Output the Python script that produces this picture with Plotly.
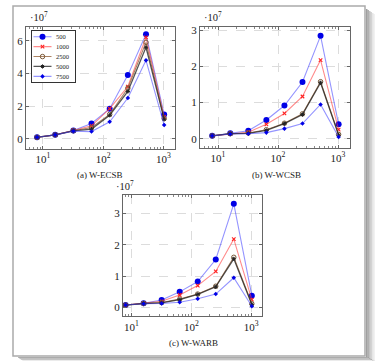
import plotly.graph_objects as go

W, H = 384, 361

threads = [8, 16, 32, 64, 128, 256, 512, 1024]
series_names = ["500", "1000", "2500", "5000", "7500"]

# values in units of 1e7
ecsb = {
    "500":  [0.10, 0.25, 0.52, 0.95, 1.85, 3.90, 6.40, 1.50],
    "1000": [0.10, 0.25, 0.52, 0.80, 1.85, 3.20, 6.20, 1.35],
    "2500": [0.10, 0.25, 0.50, 0.70, 1.50, 3.10, 5.90, 1.25],
    "5000": [0.10, 0.25, 0.50, 0.60, 1.45, 2.90, 5.60, 1.20],
    "7500": [0.10, 0.25, 0.48, 0.45, 1.05, 2.50, 4.80, 0.85],
}
wcsb = {
    "500":  [0.08, 0.15, 0.22, 0.52, 0.92, 1.57, 2.85, 0.40],
    "1000": [0.08, 0.14, 0.18, 0.40, 0.70, 1.17, 2.18, 0.25],
    "2500": [0.08, 0.14, 0.16, 0.25, 0.43, 0.69, 1.58, 0.12],
    "5000": [0.08, 0.14, 0.15, 0.23, 0.42, 0.67, 1.55, 0.10],
    "7500": [0.08, 0.13, 0.14, 0.17, 0.28, 0.42, 0.95, 0.05],
}
warb = {
    "500":  [0.08, 0.14, 0.24, 0.50, 0.83, 1.53, 3.30, 0.38],
    "1000": [0.08, 0.14, 0.20, 0.40, 0.70, 1.15, 2.18, 0.25],
    "2500": [0.08, 0.13, 0.16, 0.27, 0.43, 0.68, 1.60, 0.12],
    "5000": [0.08, 0.13, 0.15, 0.25, 0.42, 0.66, 1.55, 0.10],
    "7500": [0.08, 0.12, 0.13, 0.17, 0.28, 0.43, 0.95, 0.04],
}
captions = ["(a) W-ECSB", "(b) W-WCSB", "(c) W-WARB"]
x_tickvals = [10, 100, 1000]
x_ticktext = ["10<sup>1</sup>", "10<sup>2</sup>", "10<sup>3</sup>"]
y_ticks_a = [0, 2, 4, 6]
y_ticks_bc = [0, 1, 2, 3]

styles = {
    "500":  dict(line=dict(color="rgba(60,60,255,0.55)", width=1.1),
                 marker=dict(symbol="circle", size=6, color="#0000e6")),
    "1000": dict(line=dict(color="rgba(255,60,60,0.6)", width=1.1),
                 marker=dict(symbol="x-thin", size=3.5, color="#ff2020",
                             line=dict(width=1.1, color="#ff2020"))),
    "2500": dict(line=dict(color="rgba(150,100,60,0.8)", width=1.1),
                 marker=dict(symbol="circle-open", size=4.5, color="#7a5a3a",
                             line=dict(width=1))),
    "5000": dict(line=dict(color="rgba(30,30,30,0.75)", width=1.3),
                 marker=dict(symbol="asterisk-open", size=3.5, color="#222",
                             line=dict(width=1, color="#222"))),
    "7500": dict(line=dict(color="rgba(60,60,255,0.55)", width=1.1),
                 marker=dict(symbol="diamond", size=3.5, color="#0000e6")),
}

def px_x(a, b):
    return [a / W, b / W]

def px_y(top, bot):
    return [1 - bot / H, 1 - top / H]

panels = [
    dict(data=ecsb, xd=px_x(26, 175), yd=px_y(24, 147), xr=[0.72, 3.19], yr=[-0.6, 6.85],
         yt=y_ticks_a, cap_x=100, cap_y=173, exp_x=39, exp_y=14),
    dict(data=wcsb, xd=px_x(200, 350), yd=px_y(24, 146), xr=[0.70, 3.20], yr=[-0.25, 3.1],
         yt=y_ticks_bc, cap_x=276, cap_y=173, exp_x=213, exp_y=14),
    dict(data=warb, xd=px_x(123, 262), yd=px_y(194, 316), xr=[0.86, 3.18], yr=[-0.28, 3.57],
         yt=y_ticks_bc, cap_x=193, cap_y=343, exp_x=125, exp_y=184),
]

fig = go.Figure()
font_family = "Liberation Serif, DejaVu Serif, serif"
minor_vals = [m * 10 ** e for e in range(0, 4) for m in range(2, 10)]

for i, p in enumerate(panels):
    k = "" if i == 0 else str(i + 1)
    for name in series_names:
        fig.add_trace(go.Scatter(
            x=threads, y=p["data"][name], name=name, mode="lines+markers",
            xaxis="x" + k, yaxis="y" + k, showlegend=False, **styles[name]))
    fig.layout["xaxis" + k] = dict(
        type="log", domain=p["xd"], range=p["xr"], anchor="y" + k,
        tickmode="array", tickvals=x_tickvals, ticktext=x_ticktext,
        showgrid=True, gridcolor="#dcdcdc", griddash="dash", gridwidth=1,
        showline=True, linecolor="#666", linewidth=1, mirror="allticks",
        ticks="inside", ticklen=3, tickcolor="#666", zeroline=False,
        minor=dict(tickmode="array", tickvals=minor_vals, ticks="inside",
                   ticklen=2, tickcolor="#888", showgrid=False),
        tickfont=dict(family=font_family, size=11, color="#222"))
    fig.layout["yaxis" + k] = dict(
        domain=p["yd"], range=p["yr"], anchor="x" + k,
        tickmode="array", tickvals=p["yt"],
        showgrid=True, gridcolor="#dcdcdc", griddash="dash", gridwidth=1,
        showline=True, linecolor="#666", linewidth=1, mirror="allticks",
        ticks="inside", ticklen=3, tickcolor="#666", zeroline=False,
        tickfont=dict(family=font_family, size=11, color="#222"))
    fig.add_annotation(x=p["cap_x"] / W, y=1 - p["cap_y"] / H, xref="paper", yref="paper",
                       xanchor="center", yanchor="middle",
                       text=captions[i], showarrow=False,
                       font=dict(family=font_family, size=9, color="#222"))
    fig.add_annotation(x=p["exp_x"] / W, y=1 - p["exp_y"] / H, xref="paper", yref="paper",
                       xanchor="center", yanchor="middle",
                       text="·10<sup>7</sup>", showarrow=False,
                       font=dict(family=font_family, size=10.5, color="#222"))

# compact legend for panel (a), drawn on its own small axis
leg_rows = [0, 1, 2, 3, 4]
for r, name in zip(leg_rows, series_names):
    st = styles[name]
    fig.add_trace(go.Scatter(x=[1.5, 19.5], y=[r, r], mode="lines", line=st["line"],
                             xaxis="x4", yaxis="y4", showlegend=False, hoverinfo="skip"))
    fig.add_trace(go.Scatter(x=[10.5], y=[r], mode="markers", marker=st["marker"],
                             xaxis="x4", yaxis="y4", showlegend=False, hoverinfo="skip"))
    fig.add_annotation(x=22, y=r, xref="x4", yref="y4", text=name, showarrow=False,
                       xanchor="left", yanchor="middle",
                       font=dict(family=font_family, size=6.5, color="#222"))
fig.layout["xaxis4"] = dict(domain=px_x(32, 75), range=[0, 43], anchor="y4",
                            showgrid=False, zeroline=False, showticklabels=False,
                            showline=True, mirror=True, linecolor="#333", linewidth=1, ticks="")
fig.layout["yaxis4"] = dict(domain=px_y(28, 80), range=[4.6, -0.6], anchor="x4",
                            showgrid=False, zeroline=False, showticklabels=False,
                            showline=True, mirror=True, linecolor="#333", linewidth=1, ticks="")

# page frame with drop shadow
shapes = []
for j, op in enumerate([0.55, 0.45, 0.35, 0.25, 0.15, 0.08]):
    shapes.append(dict(type="rect", xref="paper", yref="paper", layer="below",
                       x0=(366 + j * 1.5) / W, x1=(367.5 + j * 1.5) / W,
                       y0=1 - (357 + j) / H, y1=1 - (6 + j) / H,
                       fillcolor="rgba(80,80,80,%.2f)" % op, line=dict(width=0)))
    shapes.append(dict(type="rect", xref="paper", yref="paper", layer="below",
                       x0=(18 + j) / W, x1=(367.5 + j * 1.5) / W,
                       y0=1 - (357.8 + j * 0.7) / H, y1=1 - (357 + j * 0.7) / H,
                       fillcolor="rgba(80,80,80,%.2f)" % op, line=dict(width=0)))
shapes.append(dict(type="rect", xref="paper", yref="paper", layer="below",
                   x0=13 / W, x1=365 / W, y0=1 - 356 / H, y1=1 - 3 / H,
                   line=dict(color="#aaaaaa", width=1.5), fillcolor="white"))
fig.update_layout(shapes=shapes)

fig.update_layout(
    width=W, height=H, margin=dict(l=0, r=0, t=0, b=0),
    paper_bgcolor="white", plot_bgcolor="white",
    font=dict(family=font_family, size=10, color="#222"),
    showlegend=False,
)

fig.write_html("out.html", config={"displayModeBar": False},
               post_script="document.body.style.margin='0';")
